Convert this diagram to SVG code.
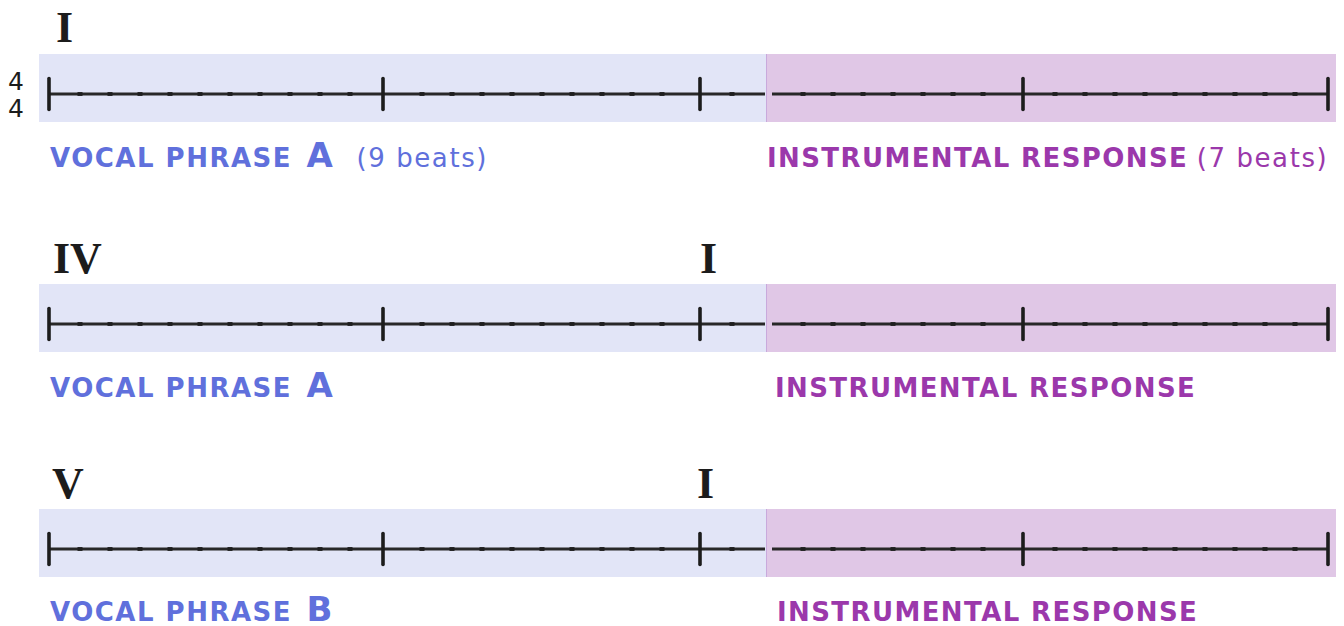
<svg xmlns="http://www.w3.org/2000/svg" xmlns:xlink="http://www.w3.org/1999/xlink" width="1344" height="626" viewBox="0 0 1344 626">
  <style>
    .bgv { fill: #e2e5f7; }
    .bgi { fill: #e0c7e6; }
    .sep { stroke: #c9a9dc; stroke-width: 1; }
    .ln { stroke: #282828; stroke-width: 2.8; fill: none; }
    .tk { stroke: #1c1c1c; stroke-width: 3.6; stroke-linecap: round; }
    .dt { fill: #1e1e1e; }
    .rn { font-family: "Liberation Serif", "Times New Roman", serif; font-weight: bold; font-size: 44px; fill: #1c1c1c; }
    .ts { font-family: "DejaVu Sans", sans-serif; font-size: 25px; fill: #1c1c1c; }
    .vl { font-family: "DejaVu Sans", sans-serif; font-weight: bold; font-size: 26px; fill: #6070dc; letter-spacing: 1.5px; }
    .il { font-family: "DejaVu Sans", sans-serif; font-weight: bold; font-size: 26px; fill: #9b38ab; letter-spacing: 1.4px; }
    .big { font-size: 34px; }
    .reg { font-weight: normal; font-size: 26px; letter-spacing: 1.6px; }
  </style>
  <defs>
    <rect id="d" class="dt" x="-2.5" y="-1.9" width="5" height="3.8"/>
    <g id="staff">
      <line class="ln" x1="49" y1="0" x2="765" y2="0"/>
      <line class="ln" x1="772" y1="0" x2="1328" y2="0"/>
      <use xlink:href="#d" x="80"/><use xlink:href="#d" x="110"/><use xlink:href="#d" x="140"/><use xlink:href="#d" x="170"/><use xlink:href="#d" x="200"/>
      <use xlink:href="#d" x="230"/><use xlink:href="#d" x="260"/><use xlink:href="#d" x="290"/><use xlink:href="#d" x="320"/><use xlink:href="#d" x="350"/>
      <use xlink:href="#d" x="422"/><use xlink:href="#d" x="452"/><use xlink:href="#d" x="482"/><use xlink:href="#d" x="512"/><use xlink:href="#d" x="542"/>
      <use xlink:href="#d" x="572"/><use xlink:href="#d" x="602"/><use xlink:href="#d" x="632"/><use xlink:href="#d" x="662"/>
      <use xlink:href="#d" x="732"/>
      <use xlink:href="#d" x="803"/><use xlink:href="#d" x="833"/><use xlink:href="#d" x="863"/><use xlink:href="#d" x="893"/><use xlink:href="#d" x="923"/>
      <use xlink:href="#d" x="953"/><use xlink:href="#d" x="983"/>
      <use xlink:href="#d" x="1055"/><use xlink:href="#d" x="1085"/><use xlink:href="#d" x="1115"/><use xlink:href="#d" x="1145"/><use xlink:href="#d" x="1175"/>
      <use xlink:href="#d" x="1205"/><use xlink:href="#d" x="1235"/><use xlink:href="#d" x="1265"/><use xlink:href="#d" x="1295"/>
      <line class="tk" x1="49" y1="-15.5" x2="49" y2="15.5"/>
      <line class="tk" x1="383" y1="-15.5" x2="383" y2="15.5"/>
      <line class="tk" x1="700" y1="-15.5" x2="700" y2="15.5"/>
      <line class="tk" x1="1023" y1="-15.5" x2="1023" y2="15.5"/>
      <line class="tk" x1="1328" y1="-15.5" x2="1328" y2="15.5"/>
    </g>
  </defs>

  <g id="row1">
    <rect class="bgv" x="39" y="54" width="727" height="68"/>
    <rect class="bgi" x="766" y="54" width="570" height="68"/>
    <line class="sep" x1="766.5" y1="54" x2="766.5" y2="122"/>
    <use xlink:href="#staff" transform="translate(0,94)"/>
    <text class="rn" x="56" y="42">I</text>
    <text class="ts" x="8" y="90">4</text>
    <text class="ts" x="8" y="117">4</text>
    <text class="vl" x="50" y="167">VOCAL PHRASE <tspan class="big" dx="4">A</tspan><tspan class="reg" dx="22">(9 beats)</tspan></text>
    <text class="il" x="767" y="167">INSTRUMENTAL RESPONSE <tspan class="reg" dx="-2">(7 beats)</tspan></text>
  </g>

  <g id="row2">
    <rect class="bgv" x="39" y="284" width="727" height="68"/>
    <rect class="bgi" x="766" y="284" width="570" height="68"/>
    <line class="sep" x1="766.5" y1="284" x2="766.5" y2="352"/>
    <use xlink:href="#staff" transform="translate(0,324)"/>
    <text class="rn" x="53" y="273">IV</text>
    <text class="rn" x="700" y="273">I</text>
    <text class="vl" x="50" y="397">VOCAL PHRASE <tspan class="big" dx="4">A</tspan></text>
    <text class="il" x="775" y="397">INSTRUMENTAL RESPONSE</text>
  </g>

  <g id="row3">
    <rect class="bgv" x="39" y="509" width="727" height="68"/>
    <rect class="bgi" x="766" y="509" width="570" height="68"/>
    <line class="sep" x1="766.5" y1="509" x2="766.5" y2="577"/>
    <use xlink:href="#staff" transform="translate(0,549)"/>
    <text class="rn" x="52" y="498">V</text>
    <text class="rn" x="697" y="498">I</text>
    <text class="vl" x="50" y="621">VOCAL PHRASE <tspan class="big" dx="4">B</tspan></text>
    <text class="il" x="777" y="621">INSTRUMENTAL RESPONSE</text>
  </g>
</svg>
